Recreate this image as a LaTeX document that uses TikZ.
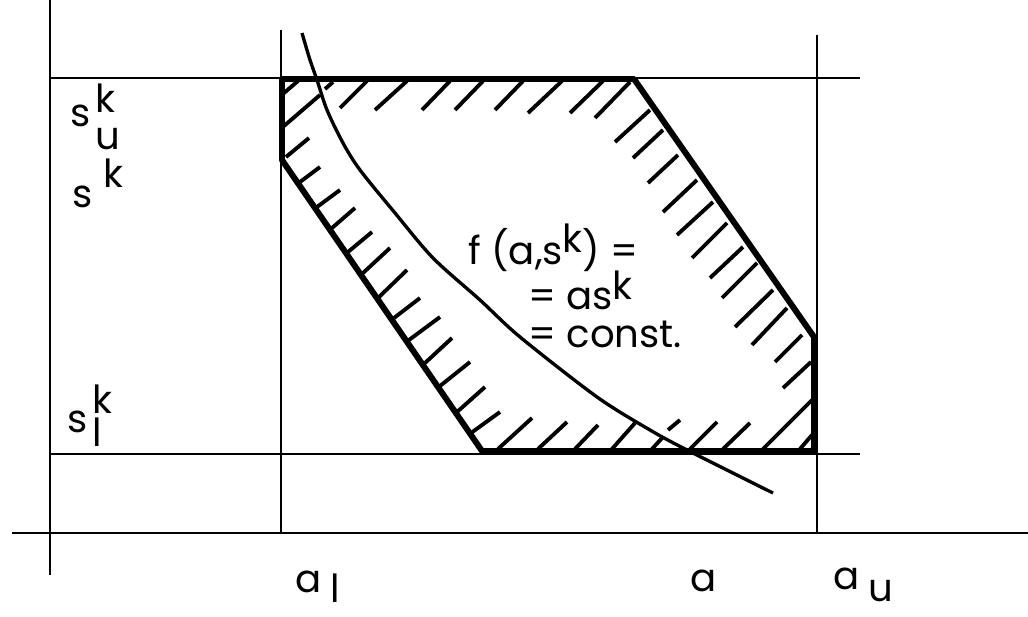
\documentclass[tikz,border=0pt]{standalone}
\usepackage{fontspec}
\setmainfont{Poppins}
\usepackage{tikz}

\tikzset{
  thinline/.style={line width=1.1pt},
  region/.style={line width=3.4pt, line join=round},
  hatch/.style={line width=2.2pt},
  levelcurve/.style={line width=1.9pt},
  lbl/.style={font=\fontsize{22}{26}\selectfont, inner sep=0pt, anchor=base west}
}

\begin{document}
\begin{tikzpicture}[x=0.02cm, y=-0.02cm]
  \useasboundingbox (0,0) rectangle (1028,617);

  % Axes
  \draw[thinline] (50,0) -- (50,575);
  \draw[thinline] (12,533) -- (1028,533);

  % Bounds a_l, a_u, s_u, s_l
  \draw[thinline] (281,30) -- (281,533);
  \draw[thinline] (817,35) -- (817,533);
  \draw[thinline] (50,78) -- (860,78);
  \draw[thinline] (50,454) -- (860,454);

  % Feasible region
  \draw[region] (282,79) -- (634,79) -- (814,337) -- (814,451) -- (482,451) -- (282,160) -- cycle;

  % Hatching, top and left corner
  \draw[hatch] (284,93) -- (298,81)
    (284,126) -- (320,95)
    (286,157) -- (309,138)
    (325,89) -- (333,82)
    (340,108) -- (367,81)
    (375,110) -- (407,81)
    (422,110) -- (450,81)
    (455,110) -- (483,81)
    (495,110) -- (523,81)
    (528,113) -- (562,81)
    (570,113) -- (603,81)
    (595,118) -- (630,82);

  % Hatching, right side
  \draw[hatch] (615,142) -- (650,110)
    (633,158) -- (663,130)
    (648,183) -- (678,155)
    (663,212) -- (697,180)
    (677,235) -- (713,202)
    (692,258) -- (727,223)
    (710,278) -- (743,247)
    (722,298) -- (757,263)
    (735,327) -- (773,290)
    (752,345) -- (787,308)
    (775,362) -- (802,335)
    (783,388) -- (811,362)
    (763,449) -- (812,400)
    (800,449) -- (812,435);

  % Hatching, bottom
  \draw[hatch] (498,449) -- (532,418)
    (538,449) -- (567,422)
    (575,449) -- (598,425)
    (612,449) -- (635,423)
    (652,449) -- (663,437)
    (668,430) -- (680,420)
    (690,449) -- (717,422)
    (723,449) -- (750,423);

  % Hatching, left diagonal
  \draw[hatch] (300,182) -- (320,167)
    (317,207) -- (340,190)
    (332,228) -- (355,208)
    (348,252) -- (372,232)
    (363,273) -- (390,248)
    (379,297) -- (407,270)
    (394,318) -- (420,298)
    (409,340) -- (440,317)
    (425,363) -- (452,338)
    (440,386) -- (470,362)
    (457,412) -- (485,387)
    (471,433) -- (500,412);

  % Level curve f(a,s^k) = const.
  \draw[levelcurve] plot[smooth] coordinates {(302,33) (310,60) (317,80) (327,110) (343,143)
    (360,170) (395,213) (433,258) (480,300) (520,337) (597,397) (650,430) (687,450) (773,493)};

  % Labels on the s axis
  \node[lbl] (su) at (70,127) {s\hspace{0.1cm}\rlap{\raisebox{0.28cm}{k}}\raisebox{-0.46cm}{u}};
  \node[lbl] (sk) at (72,208) {s\hspace{0.22cm}\raisebox{0.4cm}{k}};
  \node[lbl] (sl) at (67,433) {s\hspace{0.1cm}\rlap{\raisebox{0.4cm}{k}}\raisebox{-0.28cm}{l}};

  % Labels on the a axis
  \node[lbl] (al) at (295,593) {a\hspace{0.18cm}\raisebox{-0.2cm}{l}};
  \node[lbl] (aa) at (690,592) {a};
  \node[lbl] (au) at (833,590) {a\hspace{0.18cm}\raisebox{-0.24cm}{u}};

  % Level curve text
  \node[lbl] (fline) at (468,265) {f (a,s\raisebox{0.24cm}{k}) =};
  \node[lbl] (asline) at (528,310) {= as\raisebox{0.2cm}{k}};
  \node[lbl] (cline) at (528,348) {= const.};
\end{tikzpicture}
\end{document}
